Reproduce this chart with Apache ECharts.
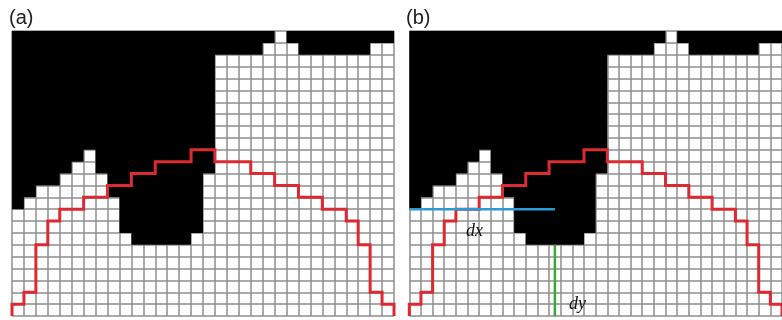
<!DOCTYPE html>
<html>
<head>
<meta charset="utf-8">
<script src="https://cdn.jsdelivr.net/npm/echarts@6/dist/echarts.min.js"></script>
<style>
html,body{margin:0;padding:0;background:#fff;}
#chart{width:782px;height:320px;}
</style>
</head>
<body>
<div id="chart"></div>
<script>
// Grid size (cells)
const nCols = 32;
const nRows = 24;
// Number of black cells from the top, per column
const blackDepth = [15,14,13,13,12,11,10,12,14,17,18,18,18,18,18,17,12,2,2,2,2,1,0,1,2,2,2,2,2,2,1,1];
// Red boundary path (column / row boundaries)
const redX = [0,0,1,1,2,2,3,3,4,4,6,6,8,8,10,10,12,12,15,15,17,17,20,20,22,22,24,24,26,26,28,28,29,29,30,30,31,31,32,32];
const redY = [24,23,23,22,22,18,18,16,16,15,15,14,14,13,13,12,12,11,11,10,10,11,11,12,12,13,13,14,14,15,15,16,16,18,18,22,22,23,23,24];
// Panel (b) annotations
const dxLineX = [0, 12.5];
const dxLineY = [15, 15];
const dyLineX = [12.5, 12.5];
const dyLineY = [18, 24];
const panelLabels = ['(a)', '(b)'];

const zip = (xs, ys) => xs.map((x, i) => [x, ys[i]]);

const chart = echarts.init(document.getElementById('chart'), null, {renderer: 'canvas'});

const grids = [
  {left: 12, top: 31, width: 382, height: 285},
  {left: 409.3, top: 31, width: 382, height: 285}
];

function makeX(i) {
  return {
    type: 'value', gridIndex: i, min: 0, max: nCols, interval: 1,
    axisLine: {show: false}, axisTick: {show: false}, axisLabel: {show: false},
    splitLine: {show: true, showMinLine: true, showMaxLine: true, lineStyle: {color: '#8e8e8e', width: 1.5}}
  };
}
function makeY(i) {
  return {
    type: 'value', gridIndex: i, min: 0, max: nRows, interval: 1, inverse: true,
    axisLine: {show: false}, axisTick: {show: false}, axisLabel: {show: false},
    splitLine: {show: true, showMinLine: true, showMaxLine: true, lineStyle: {color: '#8e8e8e', width: 1.5}}
  };
}

function blackSeries(i) {
  return {
    type: 'custom', xAxisIndex: i, yAxisIndex: i, z: 2, clip: false,
    data: [[0, 0]],
    renderItem: function (params, api) {
      const pts = [];
      pts.push(api.coord([0, 0]));
      pts.push(api.coord([nCols, 0]));
      for (let c = nCols - 1; c >= 0; c--) {
        pts.push(api.coord([c + 1, blackDepth[c]]));
        pts.push(api.coord([c, blackDepth[c]]));
      }
      return {type: 'polygon', shape: {points: pts}, style: {fill: '#000', stroke: null}};
    }
  };
}

function redSeries(i) {
  return {
    type: 'line', xAxisIndex: i, yAxisIndex: i, z: 3, clip: false,
    data: zip(redX, redY), showSymbol: false, symbol: 'none', animation: false,
    lineStyle: {color: '#dd2a31', width: 3, join: 'miter'}
  };
}

const option = {
  backgroundColor: '#fff',
  animation: false,
  grid: grids,
  xAxis: [makeX(0), makeX(1)],
  yAxis: [makeY(0), makeY(1)],
  series: [
    blackSeries(0), redSeries(0),
    blackSeries(1), redSeries(1),
    {
      type: 'line', xAxisIndex: 1, yAxisIndex: 1, z: 4, clip: false,
      data: zip(dxLineX, dxLineY), symbol: 'none',
      lineStyle: {color: '#2b9bd6', width: 2.5}
    },
    {
      type: 'line', xAxisIndex: 1, yAxisIndex: 1, z: 4, clip: false,
      data: zip(dyLineX, dyLineY), symbol: 'none',
      lineStyle: {color: '#3aa83a', width: 2.5}
    }
  ],
  graphic: [
    {type: 'text', left: 9, top: 8, style: {text: panelLabels[0], font: '20px "Liberation Sans", Arial, sans-serif', fill: '#222'}},
    {type: 'text', left: 406, top: 8, style: {text: panelLabels[1], font: '20px "Liberation Sans", Arial, sans-serif', fill: '#222'}},
    {type: 'text', left: 466, top: 222, z: 10, style: {text: 'dx', font: 'italic 18px "Liberation Serif", "Times New Roman", serif', fill: '#111'}},
    {type: 'text', left: 569, top: 295, z: 10, style: {text: 'dy', font: 'italic 18px "Liberation Serif", "Times New Roman", serif', fill: '#111'}}
  ]
};
chart.setOption(option);
</script>
</body>
</html>
